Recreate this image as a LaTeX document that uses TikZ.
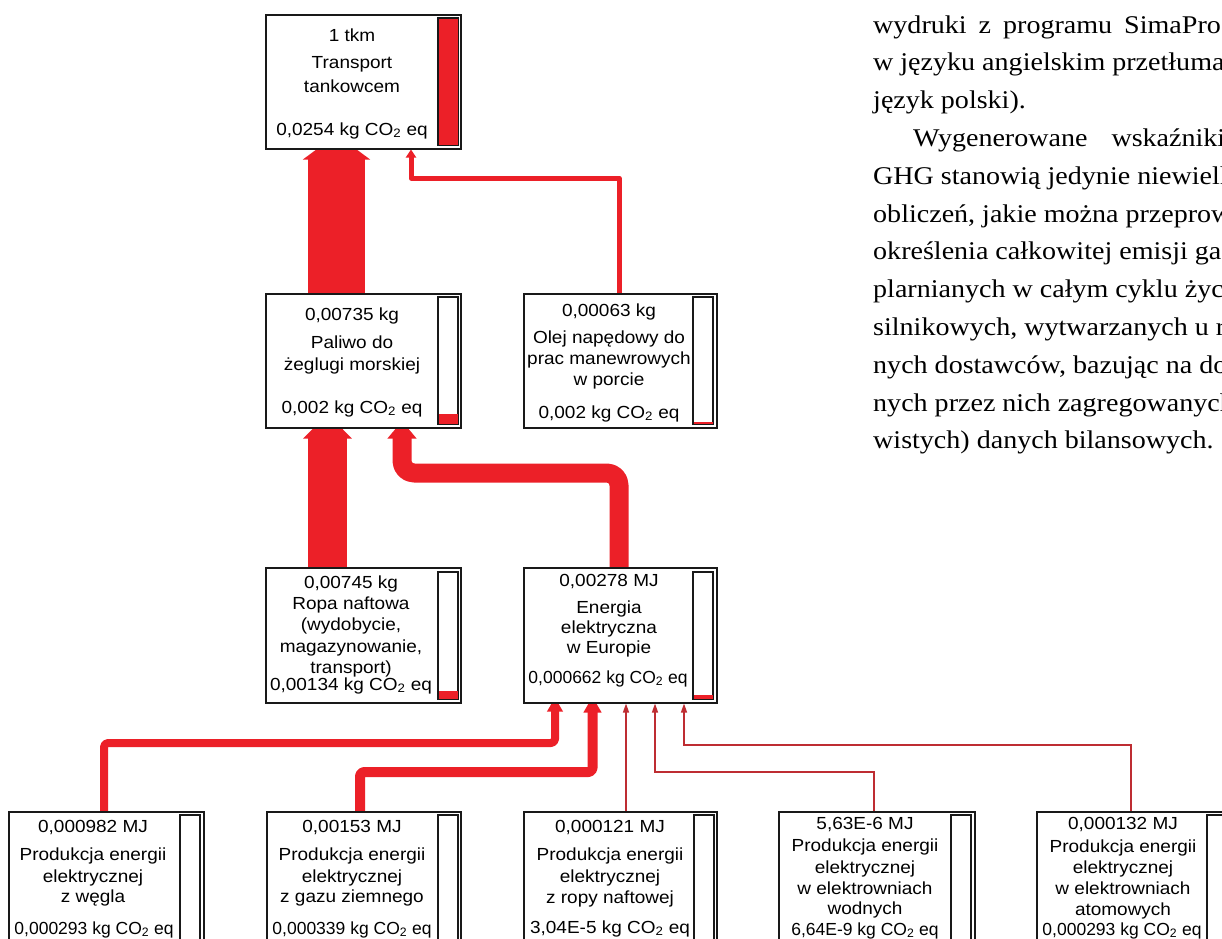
\documentclass[tikz,border=0pt]{standalone}
\usepackage{fontspec}
\setmainfont[FakeStretch=1.085]{Liberation Sans}
\newfontfamily\narrowsans{Liberation Sans}
\newfontfamily\parafont[FakeStretch=1.1]{Liberation Serif}
\usetikzlibrary{arrows.meta,calc}
\definecolor{flow}{RGB}{236,32,40}
\definecolor{thinflow}{RGB}{190,45,50}
\definecolor{frame}{RGB}{25,25,25}
\pgfdeclarelayer{back}
\pgfdeclarelayer{bg}
\pgfsetlayers{back,bg,main}
\begin{document}
\begin{tikzpicture}[x=1pt,y=-1pt,
  box/.style={draw=frame, line width=1.5pt, fill=white, minimum width=195pt, minimum height=134pt, inner sep=0pt, anchor=north west},
  gauge/.style={draw=frame, line width=1.2pt, fill=white, minimum width=19pt, minimum height=126pt, inner sep=0pt, anchor=north west},
  lbl/.style={font=\fontsize{17.5}{20}\selectfont, anchor=base, inner sep=0pt},
  tight/.style={lbl, font=\narrowsans\fontsize{17.5}{20}\selectfont},
  para/.style={font=\parafont\fontsize{25.5}{30}\selectfont, anchor=base west, inner sep=0pt},
  fat/.style={draw=flow, line cap=butt, line join=round},
  thin/.style={draw=thinflow, line width=1.3pt, -{Triangle[width=6pt,length=9pt]}},
]
\useasboundingbox (0,0) rectangle (1222,938);
\clip (0,0) rectangle (1222,938);
\begin{pgfonlayer}{back}
\fill[white] (0,0) rectangle (1222,938);
\end{pgfonlayer}

% ---------- boxes ----------
\node[box] (tr) at (265,14) {};
\node[box] (pal) at (265,293) {};
\node[box, minimum width=193pt] (ol) at (523,293) {};
\node[box, minimum height=135pt] (ropa) at (265,567) {};
\node[box, minimum width=193pt, minimum height=135pt] (en) at (523,567) {};
\node[box] (b1) at (8,811) {};
\node[box, minimum width=194pt] (b2) at (266,811) {};
\node[box, minimum width=193pt] (b3) at (523,811) {};
\node[box, minimum width=196pt] (b4) at (778,811) {};
\node[box, minimum width=196pt] (b5) at (1036,811) {};

% ---------- gauges ----------
\node[gauge] (trg) at (438,18) {};
\node[gauge] (palg) at (438,297) {};
\node[gauge] (olg) at (693,297) {};
\node[gauge] (ropag) at (438,572) {};
\node[gauge] (eng) at (693,572) {};
\node[gauge] (b1g) at (180,815) {};
\node[gauge] (b2g) at (438,815) {};
\node[gauge] (b3g) at (694,815) {};
\node[gauge] (b4g) at (951,815) {};
\node[gauge] (b5g) at (1207,815) {};

\fill[flow] (trg.north west) rectangle (trg.south east);
\fill[flow] ($(palg.south west)+(0,-10)$) rectangle (palg.south east);
\fill[flow] ($(olg.south west)+(0,-1.8)$) rectangle (olg.south east);
\fill[flow] ($(ropag.south west)+(0,-8)$) rectangle (ropag.south east);
\fill[flow] ($(eng.south west)+(0,-4)$) rectangle (eng.south east);
\foreach \g in {trg,palg,olg,ropag,eng,b1g,b2g,b3g,b4g,b5g}
  \draw[draw=frame, line width=1.2pt] (\g.north west) rectangle (\g.south east);

% ---------- texts ----------
\node[lbl] (tr1) at (352,41) {1 tkm};
\node[lbl] (tr2) at (352,68) {Transport};
\node[lbl] (tr3) at (352,92) {tankowcem};
\node[lbl] (tr4) at (352,135) {0,0254 kg CO\textsubscript{2} eq};

\node[lbl] (pal1) at (352,320) {0,00735 kg};
\node[lbl] (pal2) at (352,348) {Paliwo do};
\node[lbl] (pal3) at (352,370) {żeglugi morskiej};
\node[lbl] (pal4) at (352,413) {0,002 kg CO\textsubscript{2} eq};

\node[lbl] (ol1) at (609,316) {0,00063 kg};
\node[lbl] (ol2) at (609,343) {Olej napędowy do};
\node[lbl] (ol3) at (609,364) {prac manewrowych};
\node[lbl] (ol4) at (609,385) {w porcie};
\node[lbl] (ol5) at (609,418) {0,002 kg CO\textsubscript{2} eq};

\node[lbl] (ropa1) at (351,588) {0,00745 kg};
\node[lbl] (ropa2) at (351,609) {Ropa naftowa};
\node[lbl] (ropa3) at (351,630) {(wydobycie,};
\node[lbl] (ropa4) at (351,652) {magazynowanie,};
\node[lbl] (ropa5) at (351,673) {transport)};
\node[lbl] (ropa6) at (351,690) {0,00134 kg CO\textsubscript{2} eq};

\node[lbl] (en1) at (609,586) {0,00278 MJ};
\node[lbl] (en2) at (609,613) {Energia};
\node[lbl] (en3) at (609,633) {elektryczna};
\node[lbl] (en4) at (609,653) {w Europie};
\node[tight] (en5) at (608,683) {0,000662 kg CO\textsubscript{2} eq};

\node[lbl] (b1a) at (93,832) {0,000982 MJ};
\node[lbl] (b1b) at (93,860) {Produkcja energii};
\node[lbl] (b1c) at (93,882) {elektrycznej};
\node[lbl] (b1d) at (93,902) {z węgla};
\node[tight] (b1e) at (94,934) {0,000293 kg CO\textsubscript{2} eq};

\node[lbl] (b2a) at (352,832) {0,00153 MJ};
\node[lbl] (b2b) at (352,860) {Produkcja energii};
\node[lbl] (b2c) at (352,882) {elektrycznej};
\node[lbl] (b2d) at (352,902) {z gazu ziemnego};
\node[tight] (b2e) at (352,934) {0,000339 kg CO\textsubscript{2} eq};

\node[lbl] (b3a) at (610,832) {0,000121 MJ};
\node[lbl] (b3b) at (610,860) {Produkcja energii};
\node[lbl] (b3c) at (610,882) {elektrycznej};
\node[lbl] (b3d) at (610,903) {z ropy naftowej};
\node[lbl] (b3e) at (610,933) {3,04E-5 kg CO\textsubscript{2} eq};

\node[lbl] (b4a) at (865,829) {5,63E-6 MJ};
\node[lbl] (b4b) at (865,851) {Produkcja energii};
\node[lbl] (b4c) at (865,873) {elektrycznej};
\node[lbl] (b4d) at (865,894) {w elektrowniach};
\node[lbl] (b4e) at (865,914) {wodnych};
\node[tight] (b4f) at (865,935) {6,64E-9 kg CO\textsubscript{2} eq};

\node[lbl] (b5a) at (1123,829) {0,000132 MJ};
\node[lbl] (b5b) at (1123,852) {Produkcja energii};
\node[lbl] (b5c) at (1123,873) {elektrycznej};
\node[lbl] (b5d) at (1123,894) {w elektrowniach};
\node[lbl] (b5e) at (1123,915) {atomowych};
\node[tight] (b5f) at (1122,935) {0,000293 kg CO\textsubscript{2} eq};

% ---------- connectors (below the boxes) ----------
\begin{pgfonlayer}{bg}
\draw[fat, line width=57pt, -{Triangle[width=66pt,length=25pt]}, shorten >=-15pt]
  ([xshift=71.5pt]pal.north west) -- ([xshift=71.5pt]tr.south west);
\draw[fat, line width=5pt, -{Triangle[width=10pt,length=8pt]}]
  ([xshift=96pt]ol.north west) |- (411,178) -- ([xshift=146pt]tr.south west);
\draw[fat, line width=39pt, -{Triangle[width=47pt,length=25pt]}, shorten >=-15pt]
  ([xshift=62.5pt]ropa.north west) -- ([xshift=62.5pt]pal.south west);
\draw[fat, line width=19pt, rounded corners=12pt, -{Triangle[width=28pt,length=17.5pt]}, shorten >=-7.5pt]
  ([xshift=96pt]en.north west) |- (402,473) -- ([xshift=137pt]pal.south west);
\draw[fat, line width=8pt, rounded corners=4pt, -{Triangle[width=15pt,length=14pt]}, shorten >=-6pt]
  ([xshift=96pt]b1.north west) |- (555,743) -- ([xshift=32pt]en.south west);
\draw[fat, line width=10pt, rounded corners=4pt, -{Triangle[width=17pt,length=16pt]}, shorten >=-7pt]
  ([xshift=94pt]b2.north west) |- (592.5,772) -- ([xshift=69.5pt]en.south west);
\draw[thin] ([xshift=103pt]b3.north west) -- ([xshift=103pt]en.south west);
\draw[thin] ([xshift=96pt]b4.north west) |- (655,772) -- ([xshift=132pt]en.south west);
\draw[thin] ([xshift=95pt]b5.north west) |- (684,745) -- ([xshift=161pt]en.south west);
\end{pgfonlayer}

% ---------- running text on the right ----------
\node[para] (p1) at (873,33) {wydruki\hspace{5pt} z\hspace{5pt} programu\hspace{5pt} SimaPro};
\node[para] (p2) at (873,70.8) {w języku angielskim przetłumacz};
\node[para] (p3) at (873,108.6) {język polski).};
\node[para] (p4) at (913,146.4) {Wygenerowane\hspace{17pt} wskaźniki};
\node[para] (p5) at (873,184.2) {GHG stanowią jedynie niewielką};
\node[para] (p6) at (873,222) {obliczeń, jakie można przeprowadzić};
\node[para] (p7) at (873,259.8) {określenia całkowitej emisji gazów};
\node[para] (p8) at (873,297.6) {plarnianych w całym cyklu życia};
\node[para] (p9) at (873,335.4) {silnikowych, wytwarzanych u róż-};
\node[para] (p10) at (873,373.2) {nych dostawców, bazując na dostar};
\node[para] (p11) at (873,411) {nych przez nich zagregowanych};
\node[para] (p12) at (873,448.8) {wistych) danych bilansowych.};
\end{tikzpicture}
\end{document}
